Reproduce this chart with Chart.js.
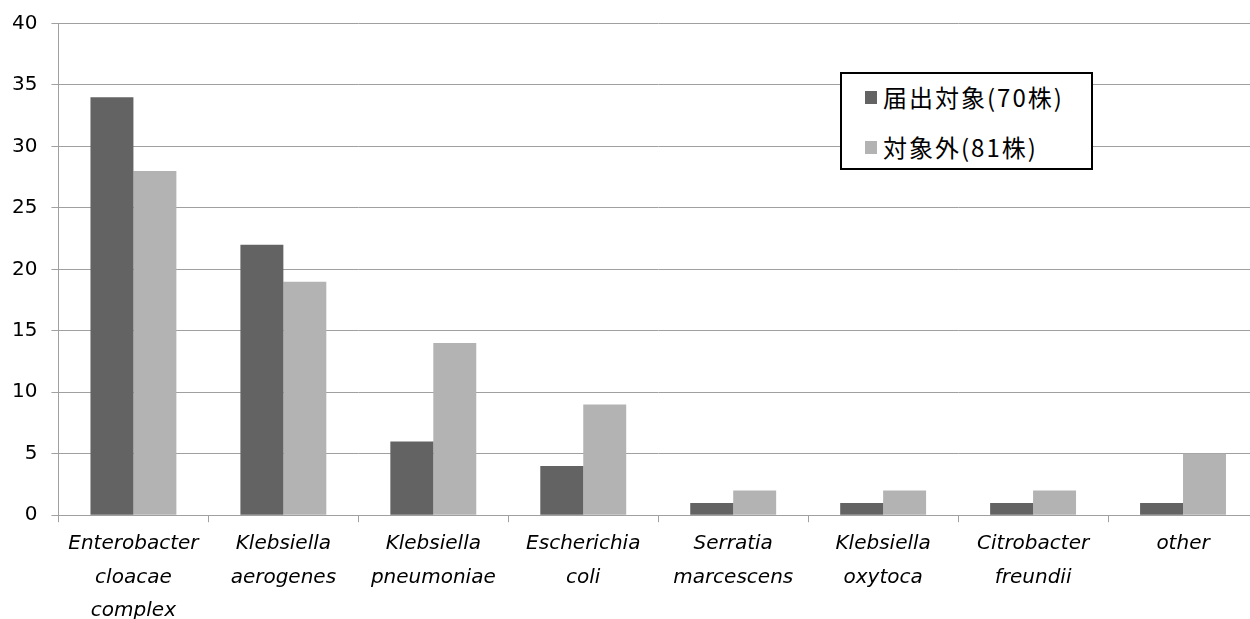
<!DOCTYPE html>
<html>
<head>
<meta charset="utf-8">
<script src="https://cdn.jsdelivr.net/npm/chart.js@4"></script>
<style>
    html, body { margin: 0; padding: 0; overflow: hidden; background: #fff; }
    #wrap { position: relative; width: 1258px; height: 619px; }
    #leyenda {
        position: absolute; left: 840px; top: 72px; width: 249px; height: 94px;
        border: 2px solid #000; background: #fff;
        font-family: "Noto Sans CJK JP", sans-serif; font-size: 24px; color: #000;
        letter-spacing: 2px;
    }
    #leyenda .fila { position: absolute; left: 23px; display: flex; align-items: center; line-height: 28px; }
    #leyenda .caja { width: 12px; height: 13px; margin-right: 6px; }
</style>
</head>
<body>
<div id="wrap">
    <canvas id="grafico"></canvas>
    <div id="leyenda"></div>
</div>
<script>
const categorias = [
    ['Enterobacter', 'cloacae', 'complex'],
    ['Klebsiella', 'aerogenes'],
    ['Klebsiella', 'pneumoniae'],
    ['Escherichia', 'coli'],
    ['Serratia', 'marcescens'],
    ['Klebsiella', 'oxytoca'],
    ['Citrobacter', 'freundii'],
    ['other']
];
const nombresSeries = ['届出対象(70株)', '対象外(81株)'];
const valoresNotificados = [34, 22, 6, 4, 1, 1, 1, 1];
const valoresNoNotificados = [28, 19, 14, 9, 2, 2, 2, 5];
const coloresSeries = ['#636363', '#b3b3b3'];

const ctx = document.getElementById('grafico').getContext('2d');
const grafico = new Chart(ctx, {
    type: 'bar',
    data: {
        labels: categorias,
        datasets: [
            { label: nombresSeries[0], data: valoresNotificados, backgroundColor: coloresSeries[0] },
            { label: nombresSeries[1], data: valoresNoNotificados, backgroundColor: coloresSeries[1] }
        ]
    },
    options: {
        responsive: true,
        maintainAspectRatio: false,
        animation: false,
        layout: { padding: { top: 5, left: -2, right: 0, bottom: -14 } },
        plugins: { legend: { display: false }, tooltip: { enabled: false } },
        datasets: { bar: { barPercentage: 1, categoryPercentage: 0.573 } },
        scales: {
            x: {
                grid: { drawOnChartArea: false, drawTicks: true, tickLength: 7, color: '#a0a0a0', offset: true },
                border: { color: '#a0a0a0', width: 1 },
                ticks: {
                    color: '#000', padding: 5,
                    maxRotation: 0, autoSkip: false,
                    font: { family: '"DejaVu Sans", sans-serif', size: 20, style: 'italic', lineHeight: 1.68 }
                }
            },
            y: {
                min: 0, max: 40,
                grid: { color: '#a0a0a0', tickLength: 7 },
                border: { color: '#a0a0a0', width: 1 },
                ticks: {
                    stepSize: 5, color: '#000', padding: 14,
                    font: { family: '"DejaVu Sans", sans-serif', size: 20, lineHeight: 0.95 }
                }
            }
        }
    }
});

// leyenda en HTML con los colores de las series
const leyenda = document.getElementById('leyenda');
nombresSeries.forEach((nombre, i) => {
    const fila = document.createElement('div');
    fila.className = 'fila';
    fila.style.top = (i === 0 ? 9 : 59) + 'px';
    fila.innerHTML = `<span class="caja" style="background:${coloresSeries[i]}"></span><span>${nombre}</span>`;
    leyenda.appendChild(fila);
});
</script>
</body>
</html>
